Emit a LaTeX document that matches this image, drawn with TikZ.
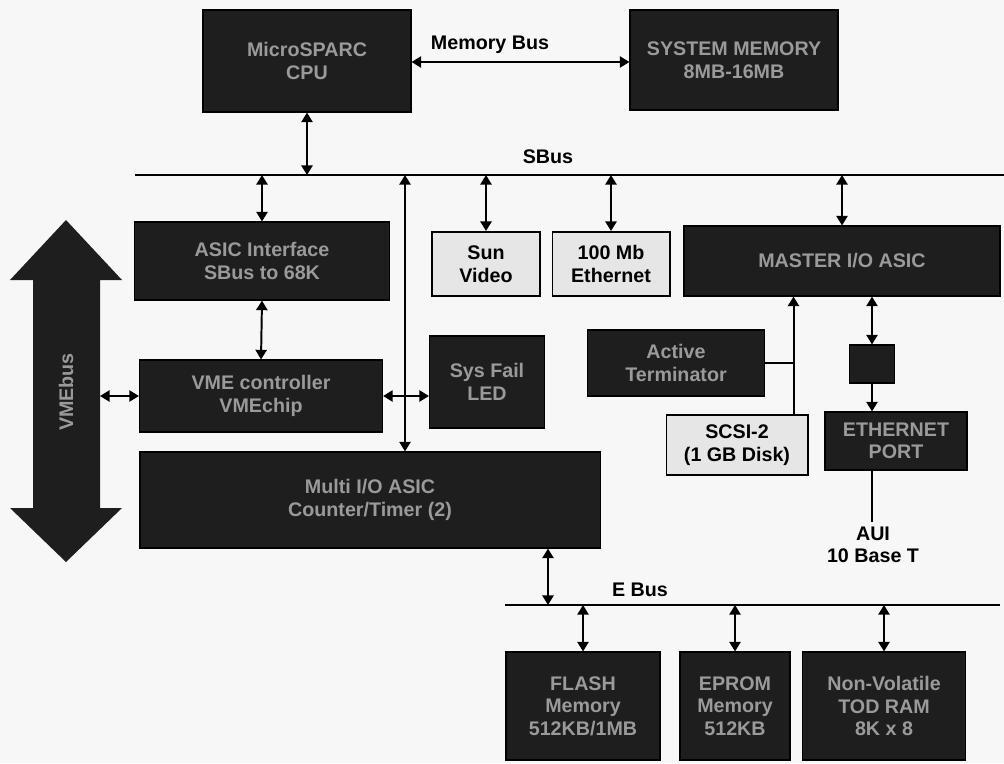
\documentclass[tikz,border=0pt]{standalone}
\usepackage{fontspec}
\setmainfont{Liberation Sans}
\usepackage{xcolor}
\usetikzlibrary{arrows.meta,positioning,calc}
\definecolor{paper}{HTML}{F7F7F7}
\definecolor{boxdark}{HTML}{1E1E1E}
\definecolor{boxtext}{HTML}{9A9A9A}
\definecolor{boxlight}{HTML}{E6E6E6}
\tikzset{
    every picture/.style={line join=miter},
    darkbox/.style={draw=black,fill=boxdark,line width=0.8pt,
      inner sep=2pt,text=boxtext,font=\bfseries\fontsize{14}{16}\selectfont,align=center},
    lightbox/.style={draw=black,fill=boxlight,line width=1.4pt,
      inner sep=2pt,text=black,font=\bfseries\fontsize{14}{16}\selectfont,align=center},
    busline/.style={draw=black,line width=1.4pt},
    link/.style={{Triangle[length=2.4mm,width=2.8mm]}-{Triangle[length=2.4mm,width=2.8mm]},
      draw=black,line width=1.4pt},
    uplink/.style={-{Triangle[length=2.4mm,width=2.8mm]},draw=black,line width=1.4pt},
    buslabel/.style={text=black,font=\bfseries\fontsize{14}{16}\selectfont,align=center}
}
\begin{document}
\begin{tikzpicture}[x=0.025cm,y=-0.025cm]
  \fill[paper] (0,0) rectangle (1004,763);
  \useasboundingbox (0,0) rectangle (1004,763);

  \node[darkbox,minimum width=5.2cm,minimum height=2.55cm] (cpu) at (307,61)
    {MicroSPARC\\CPU};
  \node[darkbox,minimum width=5.2cm,minimum height=2.5cm] (sysmem) at (734,60)
    {SYSTEM MEMORY\\8MB-16MB};
  \node[buslabel] (memlbl) at (490,45) {Memory Bus};
  \draw[link] (cpu.east |- 0,62) -- (sysmem.west |- 0,62);

  \coordinate (sbusL) at (135,175);
  \coordinate (sbusR) at (1004,175);
  \coordinate (tap) at (405,175);
  \draw[busline] (sbusL) -- (sbusR);
  \node[buslabel] (sbuslbl) at (548,157) {SBus};

  \node[darkbox,minimum width=6.375cm,minimum height=1.95cm] (asic) at (262,261)
    {ASIC Interface\\SBus to 68K};
  \node[lightbox,minimum width=2.7cm,minimum height=1.6cm] (video) at (486,264)
    {Sun\\Video};
  \node[lightbox,minimum width=2.925cm,minimum height=1.6cm] (enet) at (611,264)
    {100 Mb\\Ethernet};
  \node[darkbox,minimum width=7.9cm,minimum height=1.75cm] (master) at (842,261)
    {MASTER I/O ASIC};
  \node[darkbox,minimum width=6.075cm,minimum height=1.8cm] (vme) at (261,396)
    {VME controller\\VMEchip};
  \node[darkbox,minimum width=2.875cm,minimum height=2.3cm] (sysfail) at (487,382)
    {Sys Fail\\LED};
  \node[darkbox,minimum width=4.425cm,minimum height=1.65cm] (term) at (676,363)
    {Active\\Terminator};
  \node[darkbox,minimum width=1.125cm,minimum height=0.95cm] (xfmr) at (872,364) {};
  \node[lightbox,minimum width=3.525cm,minimum height=1.5cm] (scsi) at (737,445)
    {SCSI-2\\(1 GB Disk)};
  \node[darkbox,minimum width=3.55cm,minimum height=1.45cm] (ethport) at (896,441)
    {ETHERNET\\PORT};
  \node[buslabel] (aui) at (873,545) {AUI\\10 Base T};
  \node[darkbox,minimum width=11.5cm,minimum height=2.4cm] (multi) at (370,500)
    {Multi I/O ASIC\\Counter/Timer (2)};

  \coordinate (ebusL) at (505,605);
  \coordinate (ebusR) at (1000,605);
  \coordinate (etap) at (548,605);
  \draw[busline] (ebusL) -- (ebusR);
  \node[buslabel] (ebuslbl) at (640,590) {E Bus};

  \node[darkbox,minimum width=3.85cm,minimum height=2.7cm] (flash) at (583,706)
    {FLASH\\Memory\\512KB/1MB};
  \node[darkbox,minimum width=2.75cm,minimum height=2.7cm] (eprom) at (735,706)
    {EPROM\\Memory\\512KB};
  \node[darkbox,minimum width=4.075cm,minimum height=2.7cm] (nvram) at (884,706)
    {Non-Volatile\\TOD RAM\\8K x 8};

  \fill[boxdark] (66,220) -- (122,280) -- (100,280) -- (100,508) -- (122,508)
    -- (66,562) -- (10,508) -- (33,508) -- (33,280) -- (10,280) -- cycle;
  \node[text=boxtext,font=\bfseries\fontsize{14}{16}\selectfont,rotate=90] (vmebus)
    at (66,392) {VMEbus};
  \coordinate (vmebusR) at (100,396);

  \draw[link] (cpu.south) -- (cpu.south |- sbusL);
  \draw[link] (sbusL -| asic.north) -- (asic.north);
  \draw[link] (sbusL -| video.north) -- (video.north);
  \draw[link] (sbusL -| enet.north) -- (enet.north);
  \draw[link] (sbusL -| master.north) -- (master.north);
  \draw[link] (tap) -- (tap |- multi.north);
  \draw[link] (asic.south) -- (vme.north);
  \draw[link] (vmebusR) -- (vme.west);
  \draw[link] (vme.east) -- (vme.east -| sysfail.west);
  \draw[link] (etap |- multi.south) -- (etap);
  \draw[link] (ebusL -| flash.north) -- (flash.north);
  \draw[link] (ebusL -| eprom.north) -- (eprom.north);
  \draw[link] (ebusL -| nvram.north) -- (nvram.north);

  \coordinate (scsitap) at ($(scsi.north east)+(-15,0)$);
  \draw[uplink] (scsitap) -- (scsitap |- master.south);
  \draw[line width=1.4pt] (term.east) -- (term.east -| scsitap);
  \draw[link] (master.south -| xfmr.north) -- (xfmr.north);
  \draw[uplink] (xfmr.south) -- (xfmr.south |- ethport.north);
  \draw[line width=1.4pt] (ethport.south -| xfmr.south) -- (aui.north -| xfmr.south);
\end{tikzpicture}
\end{document}
